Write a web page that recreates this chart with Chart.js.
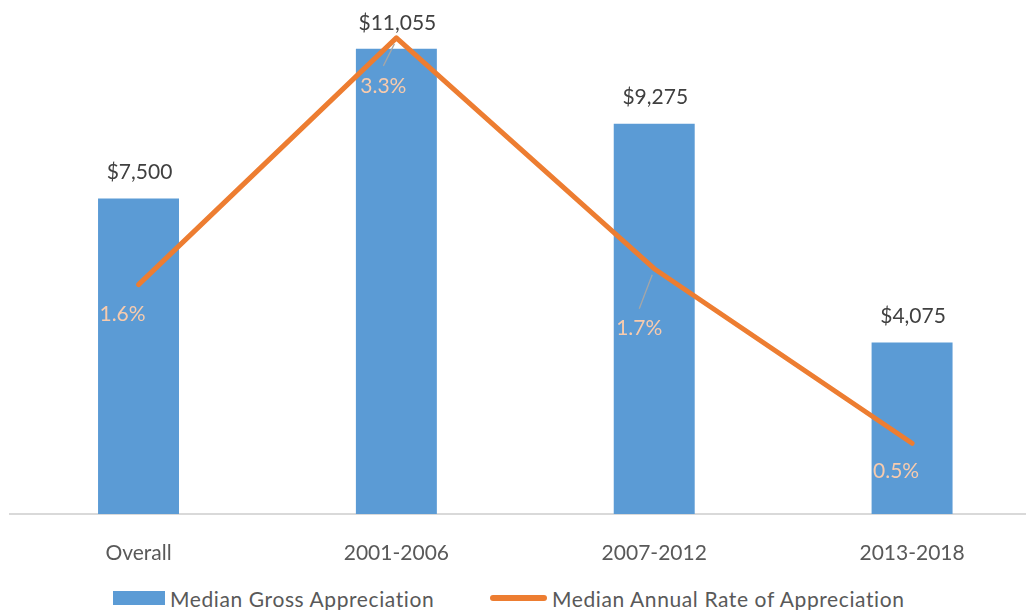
<!DOCTYPE html>
<html lang="en">
  <head>
    <meta charset="UTF-8" />
    <title>Median appreciation</title>
    <script src="https://cdn.jsdelivr.net/npm/chart.js@4"></script>
    <style>
      body { margin: 0; overflow: hidden; background: #fff; font-family: Lato, sans-serif; }
      #wrap { position: relative; width: 1045px; height: 564px; }
      #legend { position: absolute; top: 584px; left: 0; width: 1026px; height: 28px; color: #595959; font-size: 21px; letter-spacing: 0.6px; }
      .item { position: absolute; top: 0; display: flex; align-items: center; height: 28px; white-space: nowrap; }
      .swatch { display: inline-block; margin-right: 5px; }
    </style>
  </head>
  <body>
    <div id="wrap"><canvas id="myChart"></canvas></div>
    <div id="legend">
      <div class="item" style="left:113px"><span class="swatch" style="width:52px;height:14px;background:#5B9BD5"></span>Median Gross Appreciation</div>
      <div class="item" style="left:490px"><span class="swatch" style="width:57px;height:6px;border-radius:3px;background:#ED7D31"></span>Median Annual Rate of Appreciation</div>
    </div>

    <script>
      const categories = ['Overall', '2001-2006', '2007-2012', '2013-2018'];
      const grossAppreciation = [7500, 11055, 9275, 4075];   // dollars
      const annualRate = [1.59, 3.3, 1.7, 0.49];             // percent

      // where the % labels sit relative to their point (px)
      const rateLabelOffsets = [[-16, 30], [-13, 48], [-15, 60], [-16, 28]];

      const labelsPlugin = {
        id: 'valueLabels',
        afterDatasetsDraw(chart) {
          const ctx = chart.ctx;
          ctx.save();
          ctx.font = '21px Lato';
          ctx.textAlign = 'center';
          ctx.textBaseline = 'middle';

          // dollar labels above the bars
          chart.getDatasetMeta(0).data.forEach((bar, i) => {
            ctx.fillStyle = '#404040';
            ctx.fillText('$' + grossAppreciation[i].toLocaleString('en-US'), bar.x + 1, bar.y - 26);
          });

          // percent labels under the line points, with leader lines when far off
          chart.getDatasetMeta(1).data.forEach((pt, i) => {
            const [dx, dy] = rateLabelOffsets[i];
            const lx = pt.x + dx, ly = pt.y + dy;
            if (dy > 40) {
              ctx.strokeStyle = '#A6A6A6';
              ctx.lineWidth = 1.3;
              ctx.beginPath();
              ctx.moveTo(lx, ly - 20);
              ctx.lineTo(pt.x - 2, pt.y + 6);
              ctx.stroke();
            }
            ctx.fillStyle = '#F8CBAD';
            ctx.fillText(annualRate[i].toFixed(1) + '%', lx, ly);
          });
          ctx.restore();
        }
      };

      const ctx = document.getElementById('myChart').getContext('2d');
      new Chart(ctx, {
        data: {
          labels: categories,
          datasets: [
            {
              type: 'bar',
              label: 'Median Gross Appreciation',
              data: grossAppreciation,
              backgroundColor: '#5B9BD5',
              categoryPercentage: 1,
              barPercentage: 0.314,
              yAxisID: 'y',
              order: 2
            },
            {
              type: 'line',
              label: 'Median Annual Rate of Appreciation',
              data: annualRate,
              borderColor: '#ED7D31',
              borderWidth: 5,
              borderCapStyle: 'round',
              borderJoinStyle: 'round',
              pointRadius: 0,
              tension: 0,
              yAxisID: 'y1',
              order: 1
            }
          ]
        },
        options: {
          responsive: true,
          maintainAspectRatio: false,
          animation: false,
          layout: { padding: { left: 9.6, right: 4, top: 9, bottom: 0 } },
          plugins: { legend: { display: false }, tooltip: { enabled: false } },
          scales: {
            x: {
              grid: { display: false },
              border: { color: '#D9D9D9', width: 2 },
              ticks: { color: '#595959', font: { family: 'Lato', size: 21 }, padding: 19 },
              afterFit(scale) { scale.height = 50; }
            },
            y: { display: false, min: 0, max: 12000 },
            y1: { display: false, min: 0, max: 3.5 }
          }
        },
        plugins: [labelsPlugin]
      });
    </script>
  </body>
</html>
